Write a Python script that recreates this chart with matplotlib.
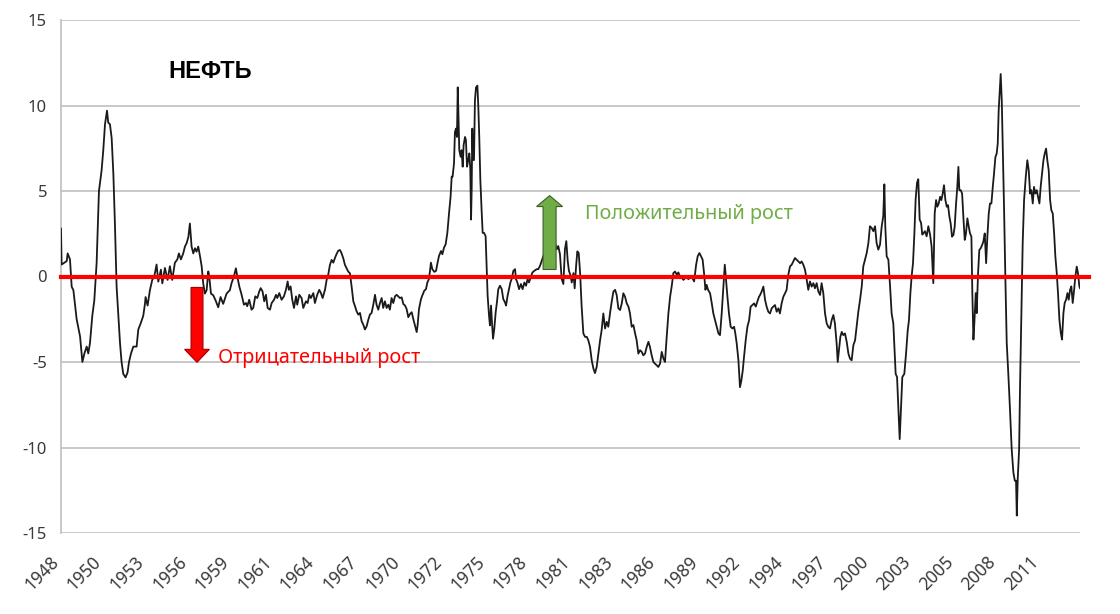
import matplotlib
matplotlib.use("Agg")
import matplotlib.pyplot as plt
import matplotlib.transforms as mtransforms
from matplotlib.patches import FancyArrow

# Values (decimal year, value)
years_1 = [1948.00, 1948.04, 1948.20, 1948.37, 1948.43, 1948.58, 1948.69, 1948.80, 1949.01, 1949.23,
           1949.38, 1949.51, 1949.66, 1949.76, 1949.87, 1950.02, 1950.15, 1950.30, 1950.45, 1950.62,
           1950.73, 1950.84, 1950.97, 1951.05, 1951.16, 1951.27, 1951.38, 1951.48, 1951.59, 1951.70,
           1951.81, 1951.91, 1952.02, 1952.17, 1952.30, 1952.39, 1952.52, 1952.67, 1952.88, 1952.99,
           1953.16, 1953.31, 1953.42, 1953.46, 1953.59, 1953.74, 1953.89, 1954.02, 1954.17, 1954.28,
           1954.45, 1954.54, 1954.71, 1954.88, 1955.03, 1955.18, 1955.35, 1955.51, 1955.61, 1955.74,
           1955.89, 1956.00, 1956.11, 1956.22, 1956.32, 1956.43, 1956.54, 1956.65, 1956.75, 1956.86,
           1956.97, 1957.08, 1957.18, 1957.29, 1957.40, 1957.51, 1957.57, 1957.68, 1957.83, 1957.98,
           1958.15, 1958.30, 1958.47, 1958.69, 1958.90]
values_1 = [2.8, 0.7, 0.8, 0.9, 1.35, 1.0, -0.6, -0.8, -2.5, -3.5,
            -5.0, -4.5, -4.1, -4.5, -3.9, -2.3, -1.4, 0.8, 5.0, 6.2,
            7.4, 8.9, 9.7, 9.0, 8.9, 8.1, 6.0, 3.1, -0.6, -2.3,
            -3.9, -5.0, -5.7, -5.9, -5.6, -5.0, -4.5, -4.1, -4.1, -3.1,
            -2.7, -2.3, -1.6, -1.2, -1.7, -0.8, -0.2, 0.0, 0.7, -0.3,
            0.4, -0.4, 0.5, -0.2, 0.6, -0.2, 0.8, 1.0, 1.35, 1.0,
            1.35, 1.75, 1.95, 2.3, 3.1, 1.75, 1.35, 1.65, 1.45, 1.75,
            1.2, 0.6, -0.4, -1.0, -0.8, 0.3, 0.0, -1.0, -1.1, -1.4,
            -1.8, -1.2, -1.6, -1.0, -0.8]

years_2 = [1959.01, 1959.16, 1959.29, 1959.38, 1959.51, 1959.66, 1959.81, 1959.94, 1960.02, 1960.15,
           1960.30, 1960.41, 1960.54, 1960.67, 1960.80, 1960.89, 1961.01, 1961.12, 1961.23, 1961.34,
           1961.49, 1961.60, 1961.75, 1961.88, 1961.96, 1962.09, 1962.24, 1962.39, 1962.52, 1962.63,
           1962.71, 1962.82, 1962.93, 1963.04, 1963.17, 1963.25, 1963.38, 1963.53, 1963.64, 1963.81,
           1963.92, 1964.03, 1964.13, 1964.29, 1964.39, 1964.54, 1964.67, 1964.78, 1964.89, 1965.04,
           1965.15, 1965.25, 1965.36, 1965.47, 1965.58, 1965.68, 1965.79, 1965.90, 1966.01, 1966.11,
           1966.22, 1966.33, 1966.44, 1966.54, 1966.65, 1966.76, 1966.87, 1966.98, 1967.08, 1967.19,
           1967.30, 1967.41, 1967.51, 1967.62, 1967.73, 1967.84, 1967.94, 1968.05, 1968.16, 1968.27,
           1968.37, 1968.48, 1968.59, 1968.70, 1968.80, 1968.91, 1969.02, 1969.13, 1969.23, 1969.34,
           1969.45, 1969.56, 1969.67, 1969.88]
values_2 = [-0.39, 0.0, 0.48, 0.0, -0.58, -1.07, -1.65, -1.55, -1.74, -1.36,
            -1.94, -1.84, -1.16, -1.26, -0.87, -0.68, -0.87, -1.45, -1.07, -1.84,
            -1.94, -1.55, -1.36, -1.07, -1.26, -0.97, -1.36, -1.16, -0.78, -0.29,
            -0.78, -0.58, -1.36, -1.84, -1.16, -1.65, -1.07, -1.26, -1.84, -1.45,
            -1.55, -1.07, -1.26, -0.97, -1.55, -1.07, -0.78, -0.97, -1.26, -0.78,
            -0.19, 0.10, 0.68, 0.97, 0.81, 1.07, 1.32, 1.51, 1.55, 1.36,
            1.07, 0.68, 0.48, 0.29, 0.19, -0.58, -1.45, -1.74, -2.03, -2.23,
            -2.13, -2.62, -2.81, -3.10, -2.91, -2.52, -2.23, -2.13, -1.65, -1.07,
            -1.65, -1.94, -1.55, -1.26, -1.84, -1.45, -1.84, -1.65, -1.94, -1.26,
            -1.55, -1.16, -1.07, -1.26]

years_3 = [1969.99, 1970.10, 1970.21, 1970.31, 1970.42, 1970.53, 1970.64, 1970.74, 1970.85, 1970.96,
           1971.02, 1971.11, 1971.24, 1971.32, 1971.45, 1971.56, 1971.65, 1971.75, 1971.82, 1971.88,
           1971.97, 1972.10, 1972.21, 1972.31, 1972.40, 1972.53, 1972.62, 1972.72, 1972.83, 1972.94,
           1973.05, 1973.15, 1973.22, 1973.28, 1973.37, 1973.43, 1973.50, 1973.56, 1973.61, 1973.65,
           1973.71, 1973.80, 1973.86, 1973.93, 1973.99, 1974.08, 1974.14, 1974.21, 1974.29, 1974.36,
           1974.42, 1974.47, 1974.51, 1974.55, 1974.60, 1974.66, 1974.72, 1974.79, 1974.88, 1974.94,
           1975.00, 1975.07, 1975.15, 1975.22, 1975.31, 1975.41, 1975.48, 1975.54, 1975.63, 1975.69,
           1975.76, 1975.82, 1975.89, 1975.97, 1976.06, 1976.14, 1976.23, 1976.34, 1976.45, 1976.55,
           1976.66, 1976.73, 1976.83, 1976.92, 1977.01, 1977.09, 1977.20, 1977.31, 1977.37, 1977.46,
           1977.57, 1977.69, 1977.80, 1977.91, 1978.02, 1978.12, 1978.21, 1978.32, 1978.43, 1978.55,
           1978.71, 1978.81, 1978.92, 1979.03, 1979.14, 1979.24, 1979.45, 1979.65, 1979.89, 1980.00,
           1980.10, 1980.21, 1980.32, 1980.43, 1980.53, 1980.62, 1980.71, 1980.79, 1980.90, 1980.97]
values_3 = [-1.22, -1.61, -1.70, -1.90, -2.38, -2.19, -2.09, -2.48, -2.86, -3.25,
            -2.86, -1.90, -1.32, -1.12, -0.83, -0.74, -0.35, -0.15, 0.33, 0.81,
            0.43, 0.27, 0.33, 0.81, 1.20, 1.49, 1.30, 1.68, 1.88, 2.55,
            3.71, 4.68, 5.84, 5.84, 6.62, 8.45, 8.65, 8.16, 11.06, 9.71,
            7.39, 7.0, 7.39, 6.42, 7.68, 8.16, 7.97, 6.42, 6.81, 7.20,
            6.32, 3.33, 5.07, 8.65, 6.81, 6.81, 10.29, 11.06, 11.16, 9.90,
            8.16, 5.65, 3.91, 2.55, 2.55, 2.36, 0.43, -1.12, -2.28, -2.86,
            -1.70, -2.67, -3.64, -3.06, -2.09, -1.51, -0.74, -0.54, -0.74, -1.32,
            -1.51, -1.70, -1.12, -0.74, -0.35, -0.15, 0.33, 0.43, -0.15, -0.35,
            -0.74, -0.44, -0.74, -0.35, -0.54, -0.15, -0.35, -0.06, 0.23, 0.33,
            0.43, 0.43, 0.62, 0.91, 1.20, 1.49, 1.7, 2.0, 1.97, 1.59,
            1.78, 1.30, -0.15, -0.44, 1.59, 2.07, 0.91, 0.33, 0.04, -0.35]

years_4 = [1981.08, 1981.16, 1981.25, 1981.33, 1981.42, 1981.51, 1981.61, 1981.72, 1981.83, 1981.94,
           1982.04, 1982.15, 1982.26, 1982.37, 1982.47, 1982.58, 1982.69, 1982.80, 1982.90, 1983.01,
           1983.12, 1983.23, 1983.33, 1983.44, 1983.55, 1983.66, 1983.77, 1983.87, 1983.98, 1984.09,
           1984.20, 1984.30, 1984.41, 1984.52, 1984.63, 1984.73, 1984.84, 1984.95, 1985.06, 1985.16,
           1985.27, 1985.38, 1985.49, 1985.59, 1985.70, 1985.81, 1985.92, 1986.02, 1986.13, 1986.24,
           1986.35, 1986.45, 1986.56, 1986.67, 1986.78, 1986.89, 1986.99, 1987.10, 1987.21, 1987.32,
           1987.42, 1987.53, 1987.64, 1987.75, 1987.85, 1987.96, 1988.07, 1988.18, 1988.28, 1988.39,
           1988.50, 1988.61, 1988.71, 1988.87, 1989.00, 1989.10, 1989.21, 1989.32, 1989.42, 1989.51,
           1989.60, 1989.68, 1989.77, 1989.90, 1990.01, 1990.11, 1990.22, 1990.33, 1990.44, 1990.54,
           1990.65, 1990.76, 1990.85, 1990.93, 1991.02, 1991.12, 1991.23, 1991.34, 1991.45, 1991.53,
           1991.62, 1991.73, 1991.83, 1991.92, 1992.01, 1992.09, 1992.20, 1992.31, 1992.42, 1992.52,
           1992.63, 1992.74, 1992.85, 1992.95, 1993.06, 1993.13]
values_4 = [0.20, -0.69, 0.59, 1.47, 1.37, 0.20, -1.76, -3.33, -3.53, -3.53,
            -3.73, -4.12, -4.90, -5.39, -5.65, -5.29, -4.51, -3.73, -3.14, -2.16,
            -3.04, -2.65, -2.94, -2.16, -1.47, -0.88, -0.78, -1.08, -1.86, -1.96,
            -1.57, -0.98, -1.18, -1.57, -1.76, -2.16, -2.94, -2.84, -3.33, -3.73,
            -4.51, -4.31, -4.41, -4.61, -4.51, -4.12, -3.82, -4.12, -4.61, -5.0,
            -5.10, -5.20, -5.29, -5.10, -4.41, -4.80, -5.0, -3.53, -2.16, -1.18,
            -0.59, 0.20, 0.29, 0.10, 0.24, 0.0, -0.06, -0.20, -0.10, 0.0,
            -0.16, -0.04, 0.0, -0.29, 0.69, 1.18, 1.37, 1.18, 0.98, 0.20,
            -0.78, -0.49, -0.78, -0.98, -1.57, -2.16, -2.55, -2.94, -3.33, -3.43,
            -2.16, -0.59, 0.69, -0.20, -1.18, -2.16, -2.94, -3.04, -2.94, -3.33,
            -3.92, -4.90, -6.47, -6.08, -5.49, -4.71, -3.73, -2.94, -2.55, -1.76,
            -1.67, -1.57, -1.76, -1.47, -1.18, -1.08]

years_5 = [1993.23, 1993.34, 1993.45, 1993.55, 1993.66, 1993.77, 1993.88, 1993.98, 1994.09, 1994.20,
           1994.31, 1994.41, 1994.52, 1994.63, 1994.74, 1994.84, 1994.95, 1995.06, 1995.17, 1995.27,
           1995.38, 1995.49, 1995.60, 1995.71, 1995.81, 1995.92, 1996.03, 1996.14, 1996.24, 1996.35,
           1996.46, 1996.57, 1996.67, 1996.78, 1996.89, 1997.00, 1997.10, 1997.21, 1997.32, 1997.43,
           1997.53, 1997.64, 1997.75, 1997.86, 1997.96, 1998.07, 1998.14, 1998.22, 1998.31, 1998.40,
           1998.50, 1998.61, 1998.72, 1998.83, 1998.93, 1999.04, 1999.15, 1999.26, 1999.36, 1999.47,
           1999.58, 1999.69, 1999.79, 1999.90, 2000.01, 2000.12, 2000.22, 2000.33, 2000.44, 2000.55,
           2000.65, 2000.76, 2000.87, 2000.98, 2001.08, 2001.15, 2001.21, 2001.30, 2001.41, 2001.52,
           2001.62, 2001.73, 2001.80, 2001.88, 2001.97, 2002.05, 2002.14, 2002.23, 2002.31, 2002.44,
           2002.55, 2002.66, 2002.74, 2002.83, 2002.91, 2003.00, 2003.09, 2003.17, 2003.26, 2003.34,
           2003.43, 2003.52, 2003.60, 2003.69, 2003.77, 2003.88, 2003.99, 2004.10, 2004.20, 2004.31]
values_5 = [-0.88, -0.59, -1.37, -1.76, -2.06, -2.16, -1.86, -1.76, -1.67, -2.06,
            -1.86, -2.16, -1.57, -1.18, -0.98, -0.78, 0.10, 0.59, 0.69, 0.88,
            1.08, 0.98, 0.88, 0.78, 0.88, 0.69, 0.39, -0.20, -0.78, -0.29,
            -0.59, -0.39, -0.69, -0.39, -0.88, -1.08, -0.39, -0.98, -2.16, -2.75,
            -2.94, -3.04, -2.55, -2.25, -2.75, -3.92, -5.0, -4.31, -3.53, -3.24,
            -3.43, -3.33, -3.82, -4.51, -4.80, -4.90, -4.02, -3.73, -2.94, -2.06,
            -1.37, -0.59, 0.59, 0.98, 1.37, 1.96, 2.94, 2.84, 2.65, 2.94,
            1.96, 1.57, 1.86, 2.94, 3.53, 5.39, 2.94, 1.18, 0.98, -0.59,
            -2.16, -2.75, -4.12, -5.69, -5.88, -7.65, -9.51, -7.65, -5.88, -5.69,
            -4.51, -3.14, -2.55, -0.98, 0.0, 0.78, 2.55, 4.51, 5.49, 5.69,
            3.33, 3.14, 2.45, 2.55, 2.65, 2.35, 2.94, 2.45, 1.76, -0.39]

years_6 = [2004.40, 2004.49, 2004.57, 2004.66, 2004.75, 2004.83, 2004.92, 2005.00, 2005.09, 2005.18,
           2005.26, 2005.35, 2005.43, 2005.52, 2005.61, 2005.69, 2005.78, 2005.86, 2005.93, 2005.99,
           2006.08, 2006.17, 2006.25, 2006.34, 2006.42, 2006.51, 2006.60, 2006.68, 2006.77, 2006.83,
           2006.90, 2006.96, 2007.05, 2007.11, 2007.20, 2007.28, 2007.37, 2007.46, 2007.54, 2007.63,
           2007.72, 2007.80, 2007.89, 2007.97, 2008.06, 2008.15, 2008.23, 2008.32, 2008.40, 2008.47,
           2008.53, 2008.60, 2008.66, 2008.73, 2008.79, 2008.88, 2008.96, 2009.05, 2009.16, 2009.26,
           2009.37, 2009.48, 2009.57, 2009.65, 2009.70, 2009.76, 2009.85, 2009.91, 2010.00, 2010.08,
           2010.17, 2010.28, 2010.38, 2010.47, 2010.56, 2010.64, 2010.73, 2010.81, 2010.90, 2010.99,
           2011.07, 2011.16, 2011.24, 2011.33, 2011.42, 2011.50, 2011.59, 2011.67, 2011.76, 2011.85,
           2011.93, 2012.02, 2012.11, 2012.19, 2012.28, 2012.36, 2012.45, 2012.54, 2012.62, 2012.71,
           2012.79, 2012.88, 2012.97, 2013.05, 2013.14, 2013.22, 2013.31, 2013.40, 2013.48, 2013.57,
           2013.65, 2013.74, 2013.78]
values_6 = [3.69, 4.47, 4.08, 4.27, 4.66, 4.47, 4.85, 5.34, 4.47, 4.08,
            4.17, 3.50, 3.11, 2.33, 2.43, 2.91, 4.27, 5.24, 6.41, 5.05,
            5.05, 4.85, 3.50, 2.14, 2.52, 3.40, 2.91, 2.52, 2.33, -0.97,
            -3.69, -2.72, -0.97, -2.14, 0.19, 1.55, 1.65, 1.84, 2.04, 2.52,
            0.78, 2.33, 3.69, 4.27, 4.27, 5.24, 6.02, 6.99, 7.18, 7.77,
            9.71, 10.87, 11.84, 10.29, 7.77, 3.88, 0.0, -3.88, -5.83, -7.77,
            -10.10, -11.46, -11.94, -11.94, -13.98, -11.84, -10.10, -6.41, -1.94, 1.94,
            4.47, 5.83, 6.80, 6.21, 4.85, 5.05, 4.27, 5.24, 4.85, 5.05,
            4.66, 4.27, 5.24, 6.02, 6.80, 7.18, 7.48, 6.80, 6.21, 4.47,
            3.88, 3.69, 2.52, 1.17, 0.19, -0.97, -2.52, -3.30, -3.69, -2.14,
            -1.55, -1.36, -0.97, -1.36, -0.78, -0.58, -1.55, -0.78, 0.0, 0.58,
            0.19, -0.58, -0.68]

years = years_1 + years_2 + years_3 + years_4 + years_5 + years_6
values = values_1 + values_2 + values_3 + values_4 + values_5 + values_6

x_labels = ['1948', '1950', '1953', '1956', '1959', '1961', '1964', '1967', '1970', '1972',
            '1975', '1978', '1981', '1983', '1986', '1989', '1992', '1994', '1997', '2000',
            '2003', '2005', '2008', '2011']
y_ticks = [-15, -10, -5, 0, 5, 10, 15]

title = 'НЕФТЬ'
up_text = 'Положительный рост'
down_text = 'Отрицательный рост'

plt.rcParams['font.family'] = ['Noto Sans', 'DejaVu Sans']

fig = plt.figure(figsize=(11.2, 6.14), dpi=100)
ax = fig.add_axes([61 / 1120, 1 - 533 / 614, 1019 / 1120, 513 / 614])

ax.set_xlim(1948.0, 2013.78)
ax.set_ylim(-15, 15)

# grid + axes styling (Excel look)
ax.set_yticks(y_ticks)
ax.set_yticklabels([str(v) for v in y_ticks])
ax.yaxis.grid(True, color='#bfbfbf', lw=1.2)
ax.set_axisbelow(True)
for s in ['top', 'right', 'bottom']:
    ax.spines[s].set_visible(False)
ax.spines['left'].set_color('#bfbfbf')
ax.spines['left'].set_linewidth(1.2)

# category labels every 33 months
ax.set_xticks([1948 + 2.75 * i for i in range(len(x_labels))])
ax.set_xticklabels(x_labels, rotation=45, ha='right', va='center', rotation_mode='anchor')
ax.tick_params(axis='x', length=0, pad=19, labelsize=12.5, labelcolor='#3a3a3a')
ax.tick_params(axis='y', length=0, pad=10, labelsize=12, labelcolor='#3a3a3a')
shift = mtransforms.ScaledTranslation(-0.05, 0, fig.dpi_scale_trans)
for lbl in ax.get_xticklabels():
    lbl.set_transform(lbl.get_transform() + shift)

ax.plot(years, values, color='#1a1a1a', lw=1.3, zorder=3)
ax.axhline(0, xmin=0, xmax=1.009, color='#ff0000', lw=3, zorder=4, clip_on=False)

# arrows
ax.add_patch(FancyArrow(1956.78, -0.64, 0, -4.38, width=0.77, head_width=1.6, head_length=0.76,
                        length_includes_head=True, fc='#ff0000', ec='#a00000', lw=0.8, zorder=5))
ax.add_patch(FancyArrow(1979.54, 0.41, 0, 4.32, width=0.84, head_width=1.68, head_length=0.64,
                        length_includes_head=True, fc='#70ad47', ec='#3b5f25', lw=0.8, zorder=5))

ax.text(1954.91, 11.97, title, fontsize=17, fontweight='bold', color='black',
        family=['Liberation Sans', 'DejaVu Sans'], va='center', ha='left')
ax.text(1981.83, 3.68, up_text, fontsize=14.3, color='#70ad47', va='center', ha='left')
ax.text(1958.14, -4.79, down_text, fontsize=14.3, color='#ff0000', va='center', ha='left')

fig.savefig('out.png', dpi=100, facecolor='white')
